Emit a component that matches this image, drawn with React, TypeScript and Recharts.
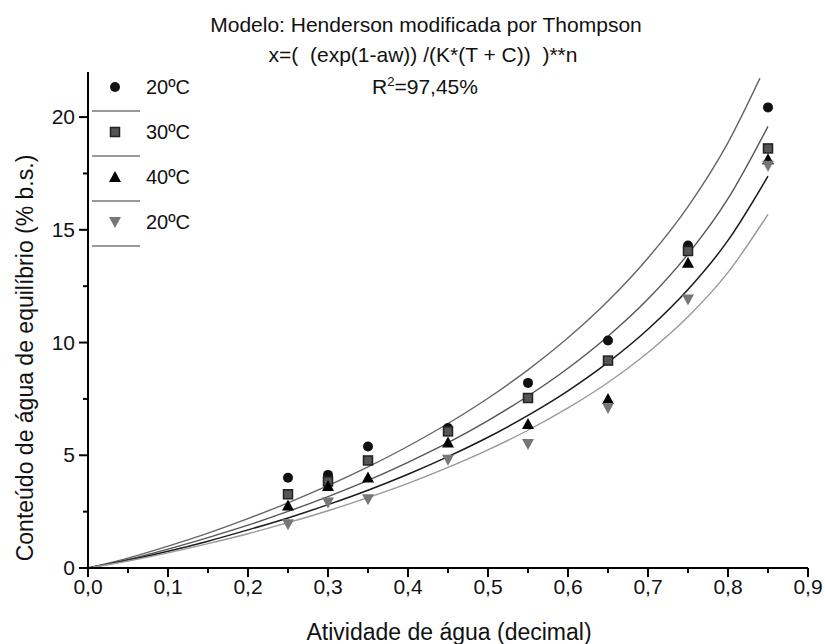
import React from 'react';
import { ComposedChart, Line, Scatter, XAxis, YAxis, Legend, Label } from 'recharts';

const FONT = '"Liberation Sans", Arial, sans-serif';

// observed points (aw, % b.s.)
const awObs = [0.25, 0.3, 0.35, 0.45, 0.55, 0.65, 0.75, 0.85];
const obs20 = [4.0, 4.13, 5.39, 6.21, 8.21, 10.09, 14.3, 20.43];
const obs30 = [3.27, 3.84, 4.77, 6.06, 7.54, 9.2, 14.06, 18.61];
const obs40 = [2.77, 3.64, 4.01, 5.57, 6.39, 7.5, 13.54, 18.13];
const obs20b = [1.94, 2.9, 3.05, 4.8, 5.5, 7.1, 11.91, 17.84];

// fitted curves
const awFit = [0, 0.05, 0.1, 0.15, 0.2, 0.25, 0.3, 0.35, 0.4, 0.45, 0.5, 0.55, 0.6, 0.65, 0.7, 0.75, 0.8, 0.85];
const awFitTop = [0, 0.05, 0.1, 0.15, 0.2, 0.25, 0.3, 0.35, 0.4, 0.45, 0.5, 0.55, 0.6, 0.65, 0.7, 0.75, 0.8, 0.84];
const fit20 = [0, 0.44, 0.97, 1.55, 2.19, 2.89, 3.65, 4.48, 5.4, 6.41, 7.53, 8.79, 10.21, 11.84, 13.75, 16.03, 18.87, 21.73];
const fit30 = [0, 0.38, 0.84, 1.35, 1.9, 2.51, 3.17, 3.89, 4.69, 5.56, 6.54, 7.63, 8.86, 10.28, 11.93, 13.92, 16.38, 19.59];
const fit40 = [0, 0.34, 0.74, 1.19, 1.69, 2.22, 2.81, 3.45, 4.16, 4.94, 5.8, 6.77, 7.86, 9.12, 10.59, 12.35, 14.53, 17.38];
const fit20b = [0, 0.31, 0.67, 1.08, 1.52, 2.01, 2.54, 3.12, 3.75, 4.46, 5.24, 6.11, 7.1, 8.23, 9.56, 11.14, 13.11, 15.69];

const xTicks = [0, 0.05, 0.1, 0.15, 0.2, 0.25, 0.3, 0.35, 0.4, 0.45, 0.5, 0.55, 0.6, 0.65, 0.7, 0.75, 0.8, 0.85, 0.9];
const yTicks = [0, 2.5, 5, 7.5, 10, 12.5, 15, 17.5, 20];
const legendLabels = ['20ºC', '30ºC', '40ºC', '20ºC'];

const toRows = (xs: number[], ys: number[]) => xs.map((aw, i) => ({ aw, v: ys[i] }));

type Kind = 'circle' | 'square' | 'up' | 'down';

const Marker = ({ cx, cy, kind }: { cx: number; cy: number; kind: Kind }) => {
  if (kind === 'circle') return <circle cx={cx} cy={cy} r={5} fill="#111" />;
  if (kind === 'square')
    return <rect x={cx - 4.5} y={cy - 4.5} width={9} height={9} fill="#555" stroke="#222" strokeWidth={1.5} />;
  if (kind === 'up')
    return <polygon points={`${cx},${cy - 6} ${cx - 6},${cy + 5} ${cx + 6},${cy + 5}`} fill="#000" />;
  return <polygon points={`${cx},${cy + 6} ${cx - 6},${cy - 5} ${cx + 6},${cy - 5}`} fill="#777" />;
};

const shapeOf = (kind: Kind) => (p: any) => <Marker cx={p.cx} cy={p.cy} kind={kind} />;

const XTick = (props: any) => {
  const { x, y, payload } = props;
  const v = payload.value;
  const major = Math.abs(v * 10 - Math.round(v * 10)) < 1e-6;
  return (
    <g>
      <line x1={x} y1={y} x2={x} y2={y + (major ? 9 : 5)} stroke="#000" strokeWidth={2} />
      {major && (
        <text x={x} y={y + 26} textAnchor="middle" fontSize={21} fontFamily={FONT} fill="#111">
          {v.toFixed(1).replace('.', ',')}
        </text>
      )}
    </g>
  );
};

const YTick = (props: any) => {
  const { x, y, payload } = props;
  const v = payload.value;
  const major = v % 5 === 0;
  return (
    <g>
      <line x1={x} y1={y} x2={x - (major ? 9 : 5)} y2={y} stroke="#000" strokeWidth={2} />
      {major && (
        <text x={x - 13} y={y + 7} textAnchor="end" fontSize={21} fontFamily={FONT} fill="#111">
          {v}
        </text>
      )}
    </g>
  );
};

const LegendBox = () => {
  const kinds: Kind[] = ['circle', 'square', 'up', 'down'];
  return (
    <svg width={130} height={190}>
      {kinds.map((k, i) => {
        const cy = 15 + i * 45;
        return (
          <g key={i}>
            <Marker cx={27} cy={cy} kind={k} />
            <text x={58} y={cy + 7} fontSize={20} fontFamily={FONT} fill="#111">
              {legendLabels[i]}
            </text>
            <line x1={4} y1={cy + 24} x2={52} y2={cy + 24} stroke="#777" strokeWidth={1.5} />
          </g>
        );
      })}
    </svg>
  );
};

export default function App() {
  return (
    <div style={{ position: 'absolute', left: 0, top: 0, width: 825, height: 644, background: '#fff', fontFamily: FONT }}>
      <ComposedChart width={825} height={644} margin={{ top: 72, right: 17, bottom: 36, left: 28 }}>
        <XAxis
          type="number"
          dataKey="aw"
          domain={[0, 0.9]}
          ticks={xTicks}
          interval={0}
          tickSize={0}
          tickMargin={0}
          tickLine={false}
          tick={<XTick />}
          axisLine={{ stroke: '#000', strokeWidth: 2 }}
          height={40}
          allowDataOverflow
        >
          <Label
            content={() => (
              <text x={449} y={640} textAnchor="middle" fontSize={23} fontFamily={FONT} fill="#111">
                Atividade de água (decimal)
              </text>
            )}
          />
        </XAxis>
        <YAxis
          type="number"
          dataKey="v"
          domain={[0, 22]}
          ticks={yTicks}
          interval={0}
          tickSize={0}
          tickMargin={0}
          tickLine={false}
          tick={<YTick />}
          axisLine={{ stroke: '#000', strokeWidth: 2 }}
          width={60}
          allowDataOverflow
        >
          <Label
            content={() => (
              <text
                x={33}
                y={358}
                transform="rotate(-90 33 358)"
                textAnchor="middle"
                fontSize={23}
                fontFamily={FONT}
                fill="#111"
              >
                Conteúdo de água de equilíbrio (% b.s.)
              </text>
            )}
          />
        </YAxis>
        <Line data={toRows(awFitTop, fit20)} dataKey="v" type="monotone" stroke="#666" strokeWidth={1.4} dot={false} activeDot={false} isAnimationActive={false} legendType="none" />
        <Line data={toRows(awFit, fit30)} dataKey="v" type="monotone" stroke="#555" strokeWidth={1.4} dot={false} activeDot={false} isAnimationActive={false} legendType="none" />
        <Line data={toRows(awFit, fit40)} dataKey="v" type="monotone" stroke="#1a1a1a" strokeWidth={1.5} dot={false} activeDot={false} isAnimationActive={false} legendType="none" />
        <Line data={toRows(awFit, fit20b)} dataKey="v" type="monotone" stroke="#999" strokeWidth={1.4} dot={false} activeDot={false} isAnimationActive={false} legendType="none" />
        <Scatter data={toRows(awObs, obs20)} dataKey="v" shape={shapeOf('circle')} isAnimationActive={false} />
        <Scatter data={toRows(awObs, obs30)} dataKey="v" shape={shapeOf('square')} isAnimationActive={false} />
        <Scatter data={toRows(awObs, obs40)} dataKey="v" shape={shapeOf('up')} isAnimationActive={false} />
        <Scatter data={toRows(awObs, obs20b)} dataKey="v" shape={shapeOf('down')} isAnimationActive={false} />
        <Legend
          layout="vertical"
          align="center"
          verticalAlign="middle"
          content={<LegendBox />}
          wrapperStyle={{ left: 88, top: 72, width: 130, height: 190 }}
        />
      </ComposedChart>
      <div style={{ position: 'absolute', left: 0, width: 852, top: 13, textAlign: 'center', fontSize: 21, lineHeight: '24px', color: '#111', whiteSpace: 'pre' }}>
        Modelo: Henderson modificada por Thompson
      </div>
      <div style={{ position: 'absolute', left: 0, width: 846, top: 43, textAlign: 'center', fontSize: 21, lineHeight: '24px', color: '#111', whiteSpace: 'pre' }}>
        {'x=(  (exp(1-aw)) /(K*(T + C))  )**n'}
      </div>
      <div style={{ position: 'absolute', left: 0, width: 850, top: 75, textAlign: 'center', fontSize: 21, lineHeight: '24px', color: '#111', whiteSpace: 'pre' }}>
        R<sup style={{ fontSize: 13, lineHeight: 0 }}>2</sup>=97,45%
      </div>
    </div>
  );
}
